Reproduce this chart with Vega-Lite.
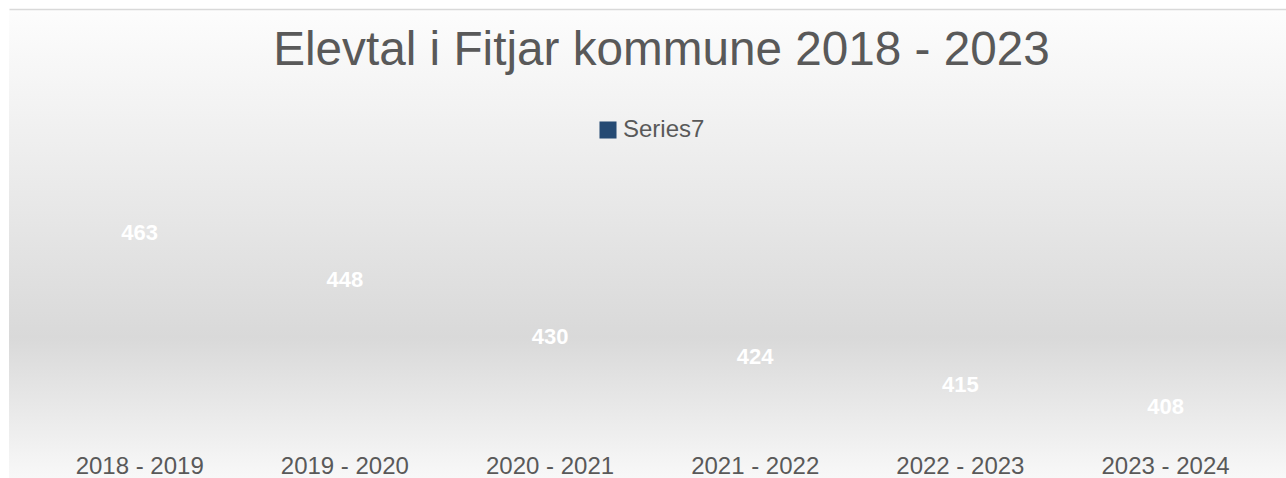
{
  "$schema": "https://vega.github.io/schema/vega-lite/v6.json",
  "autosize": {"type": "none"},
  "padding": {"left": 9, "top": 9, "right": 0, "bottom": 0},
  "width": 1277,
  "height": 469,
  "background": "#ffffff",
  "config": {
    "font": "Liberation Sans",
    "view": {
      "stroke": null,
      "fill": {
        "gradient": "linear",
        "x1": 0, "y1": 0, "x2": 0, "y2": 1,
        "stops": [
          {"offset": 0, "color": "#fdfdfd"},
          {"offset": 0.3, "color": "#eeeeee"},
          {"offset": 0.7, "color": "#d9d9d9"},
          {"offset": 1, "color": "#f8f8f8"}
        ]
      }
    }
  },
  "title": {
    "text": "Elevtal i Fitjar kommune 2018 - 2023",
    "font": "Liberation Sans",
    "fontSize": 47.7,
    "fontWeight": "normal",
    "color": "#595959",
    "anchor": "middle",
    "frame": "group",
    "offset": -66,
    "dx": 14
  },
  "data": {
    "values": [
      {"year": "2018 - 2019", "value": 463, "series": "Series7"},
      {"year": "2019 - 2020", "value": 448, "series": "Series7"},
      {"year": "2020 - 2021", "value": 430, "series": "Series7"},
      {"year": "2021 - 2022", "value": 424, "series": "Series7"},
      {"year": "2022 - 2023", "value": 415, "series": "Series7"},
      {"year": "2023 - 2024", "value": 408, "series": "Series7"}
    ]
  },
  "layer": [
    {
      "mark": {"type": "bar", "opacity": 0},
      "encoding": {
        "x": {
          "field": "year", "type": "nominal", "sort": null,
          "scale": {"paddingInner": 0, "paddingOuter": 0.1121, "align": 0.611},
          "axis": {
            "orient": "bottom", "title": null, "domain": false, "ticks": false, "tickSize": 0,
            "labelAngle": 0, "labelFontSize": 24, "labelColor": "#595959",
            "labelFont": "Liberation Sans", "labelBaseline": "alphabetic", "labelPadding": -5
          }
        },
        "y": {
          "field": "value", "type": "quantitative",
          "scale": {"domain": [385.8, 533.3], "zero": false, "nice": false},
          "axis": {
            "title": null, "labels": false, "ticks": false, "grid": false,
            "domain": true, "domainColor": "#d9d9d9", "domainWidth": 1.5
          }
        },
        "color": {
          "field": "series", "type": "nominal",
          "scale": {"range": ["#254a73"]},
          "legend": {
            "title": null, "orient": "none", "legendX": 587, "legendY": 109,
            "symbolType": "square", "symbolSize": 290, "symbolStrokeWidth": 0,
            "symbolOpacity": 1, "labelFontSize": 24, "labelColor": "#595959",
            "labelFont": "Liberation Sans", "labelOffset": 3, "padding": 0
          }
        }
      }
    },
    {
      "mark": {"type": "text", "color": "#ffffff", "fontSize": 22, "fontWeight": "bold", "baseline": "middle", "align": "center", "font": "Liberation Sans"},
      "encoding": {
        "x": {
          "field": "year", "type": "nominal", "sort": null,
          "axis": {
            "orient": "top", "title": null, "labels": false, "ticks": false,
            "domain": true, "domainColor": "#d9d9d9", "domainWidth": 1.5
          }
        },
        "y": {"field": "value", "type": "quantitative", "axis": null},
        "text": {"field": "value", "type": "quantitative"}
      }
    }
  ],
  "resolve": {"axis": {"x": "independent"}}
}
